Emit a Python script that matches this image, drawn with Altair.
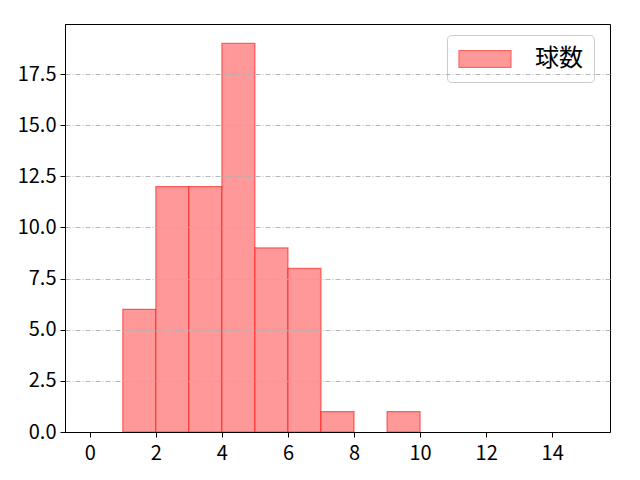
import altair as alt
import pandas as pd

bin_start = [1, 2, 3, 4, 5, 6, 7, 9]
bin_end = [2, 3, 4, 5, 6, 7, 8, 10]
counts = [6, 12, 12, 19, 9, 8, 1, 1]
series = "球数"
x_ticks = [0, 2, 4, 6, 8, 10, 12, 14]
y_ticks = [0, 2.5, 5, 7.5, 10, 12.5, 15, 17.5]

df = pd.DataFrame({"start": bin_start, "end": bin_end, "count": counts, "series": [series] * len(counts)})

font = "Noto Sans CJK JP"

chart = alt.Chart(df).mark_rect(fillOpacity=1, strokeOpacity=0.55, strokeWidth=1.2).encode(
    x=alt.X("start:Q",
            scale=alt.Scale(domain=[-0.75, 15.75], nice=False, zero=False),
            axis=alt.Axis(values=x_ticks, title=None, grid=False, format="d",
                          labelFontSize=20, labelFont=font, labelColor="black",
                          tickColor="black", tickSize=5, domainColor="black",
                          labelPadding=6, labelFlush=False, zindex=2)),
    x2="end:Q",
    y=alt.Y("count:Q",
            scale=alt.Scale(domain=[0, 19.95], nice=False),
            axis=alt.Axis(values=y_ticks, title=None, grid=True, format=".1f",
                          gridColor="#b0b0b0", gridDash=[5, 2, 1, 2], gridWidth=0.9,
                          labelFontSize=20, labelFont=font, labelColor="black",
                          tickColor="black", tickSize=5, domainColor="black",
                          labelPadding=4, zindex=1)),
    y2=alt.datum(0),
    color=alt.Color("series:N", scale=alt.Scale(range=["#ff9999"]),
                    legend=alt.Legend(title=None, orient="none", legendX=382, legendY=11,
                                      symbolType="M-1,-0.7H3.33V0.7H-1Z", symbolSize=576,
                                      symbolOpacity=1, symbolStrokeColor="#ff6666",
                                      symbolStrokeWidth=1.2,
                                      labelFontSize=24, labelFont=font, labelColor="black",
                                      labelOffset=51, padding=11,
                                      fillColor="white", strokeColor="#cccccc",
                                      cornerRadius=4)),
    stroke=alt.value("#ff0000"),
).properties(
    width=545, height=408,
    autosize=alt.AutoSizeParams(type="none"),
    padding={"left": 57, "top": 16, "right": 22, "bottom": 40},
).configure_view(
    stroke="black", strokeWidth=1
)

chart.save("out.html", embed_options={"renderer": "svg", "actions": False})
